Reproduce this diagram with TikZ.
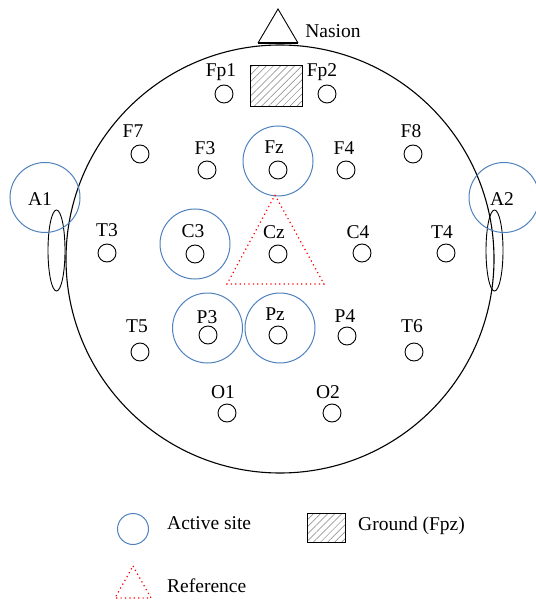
\documentclass[tikz,border=0pt]{standalone}
\usepackage{fontspec}
\setmainfont{Liberation Serif}
\usetikzlibrary{patterns.meta,shapes.geometric}
\definecolor{actblue}{RGB}{79,129,189}
\begin{document}
\begin{tikzpicture}[x=1pt,y=-1pt,
  elec/.style={circle,draw,line width=0.9pt,minimum size=18pt,inner sep=0pt},
  lab/.style={inner sep=0pt,font=\fontsize{19.5}{22}\selectfont},
  active/.style={circle,draw=actblue,line width=1pt,minimum size=70pt,inner sep=0pt},
  refline/.style={draw=red,line width=1.2pt,dash pattern=on 1.2pt off 3.2pt},
  ground/.style={draw,line width=0.9pt,pattern={Lines[angle=45,distance=5pt,line width=0.5pt]},pattern color=gray},
  ear/.style={ellipse,draw,line width=0.9pt,minimum width=17pt,minimum height=81pt,inner sep=0pt}]
\useasboundingbox (0,0) rectangle (535,601);
% head
\node[circle,draw,line width=1.1pt,minimum size=428pt,inner sep=0pt] (head) at (280,259) {};
% nasion
\coordinate (nasT) at (278,9);
\coordinate (nasL) at (258,43);
\coordinate (nasR) at (298,43);
\draw[line width=0.9pt,fill=white] (nasL) -- (nasT) -- (nasR);
\draw[line width=2pt] (nasL) -- (nasR);
\node[lab] (nasion) at (333,31) {Nasion};
% ground
\node[ground,minimum width=52pt,minimum height=41pt,inner sep=0pt] (gnd) at (276,86) {};
% ears
\node[ear] (earL) at (56.5,250.5) {};
\node[ear] (earR) at (494.5,250.5) {};
% A1/A2
\node[active] (A1c) at (45,197.5) {};
\node[lab] (A1) at (40,199) {A1};
\node[active] (A2c) at (504,197.5) {};
\node[lab] (A2) at (502,199) {A2};
% active sites
\node[active] (Fzc) at (278,161) {};
\node[active] (C3c) at (195,244) {};
\node[active] (P3c) at (207.5,328) {};
\node[active] (Pzc) at (280,328) {};
% reference triangle
\coordinate (refT) at (275,195);
\coordinate (refL) at (227,284);
\coordinate (refR) at (324,284);
\draw[refline] (refT) -- (refR) -- (refL) -- cycle;
% electrodes
\foreach \n/\cx/\cy/\lx/\ly in {
  Fp1/224/94/221/72, Fp2/327/94/322/72,
  F7/140/154/133/131, F3/207/170/205/148, Fz/278/170/274/147, F4/346/170/344/148, F8/413/154/411/131,
  T3/107/253/107/230, C3/195/254/193/231, Cz/278/254/274/232, C4/362/253/358/232, T4/446/253/442/232,
  T5/140/352/137/326, P3/208/335/207/317, Pz/278/335/275/314, P4/347/336/345/316, T6/414/352/412/326,
  O1/227/413/223/392, O2/332/413/328/392}{
  \node[elec] (\n) at (\cx,\cy) {};
  \node[lab] (\n l) at (\lx,\ly) {\n};
}
% legend
\node[circle,draw=actblue,line width=1pt,minimum size=31pt,inner sep=0pt] (legA) at (133,529) {};
\node[lab,anchor=west] (legAt) at (167,523) {Active site};
\node[ground,minimum width=38pt,minimum height=29pt,inner sep=0pt] (legG) at (326,527.5) {};
\node[lab,anchor=west] (legGt) at (358,526) {Ground (Fpz)};
\coordinate (lrT) at (133,566);
\coordinate (lrL) at (115,598);
\coordinate (lrR) at (151,598);
\draw[refline] (lrT) -- (lrR) -- (lrL) -- cycle;
\node[lab,anchor=west] (legRt) at (167,586) {Reference};
\end{tikzpicture}
\end{document}
